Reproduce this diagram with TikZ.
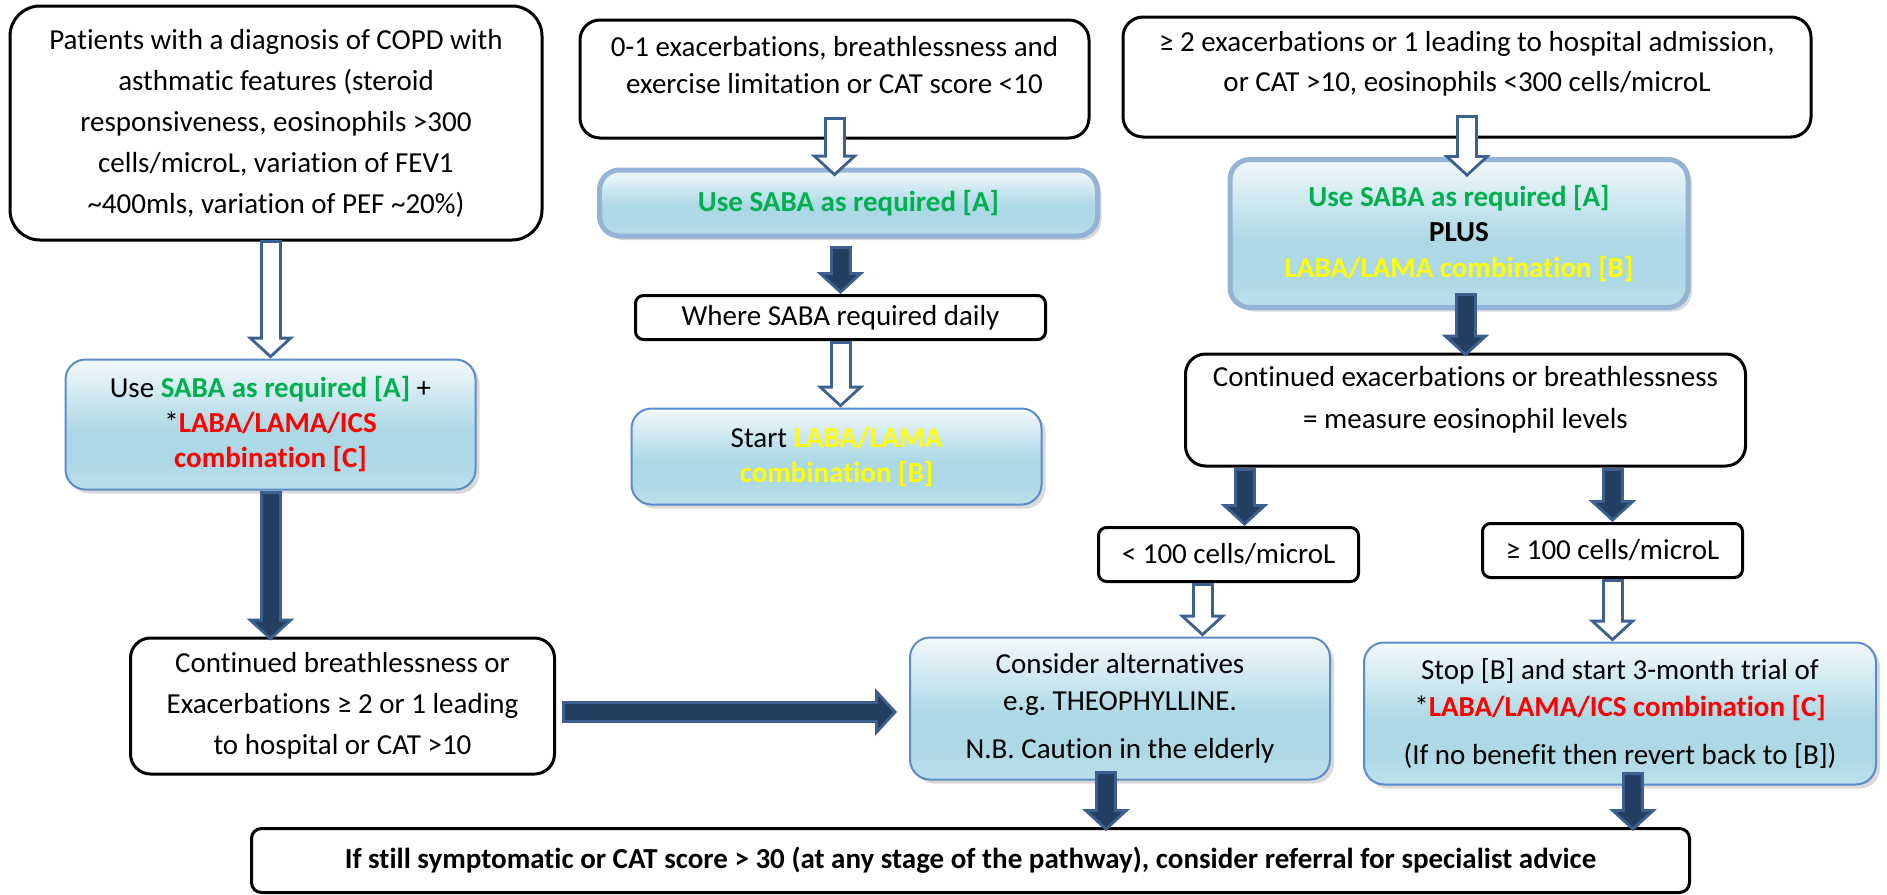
\documentclass[tikz,border=0pt]{standalone}
\usepackage{fontspec}
\setmainfont{Carlito}[Ligatures=NoCommon]
\usetikzlibrary{arrows.meta,shadows}

\definecolor{sabagreen}{HTML}{00B050}
\definecolor{labayellow}{HTML}{FFFF00}
\definecolor{icsred}{HTML}{FF0000}
\definecolor{arrowedge}{HTML}{3C6190}
\definecolor{arrowfill}{HTML}{253F62}
\definecolor{boxtop}{HTML}{F2F9FB}
\definecolor{boxlow}{HTML}{ADD8E6}
\definecolor{boxbot}{HTML}{BCE0EA}
\definecolor{thickedge}{HTML}{95B3D7}
\definecolor{thinedge}{HTML}{5B8CC8}

\pgfdeclareverticalshading{paleblue}{100bp}{color(0bp)=(boxbot); color(25bp)=(boxbot); color(35bp)=(boxlow); color(48bp)=(boxlow); color(75bp)=(boxtop); color(100bp)=(boxtop)}

\newcommand{\saba}[1]{\textbf{\color{sabagreen}#1}}
\newcommand{\labalama}[1]{\textbf{\color{labayellow}#1}}
\newcommand{\triple}[1]{\textbf{\color{icsred}#1}}

\tikzset{
  linesep/.style={font=\fontsize{14.5pt}{#1}\selectfont\frenchspacing},
  outline/.style={draw=black, line width=1.5pt, fill=white, rounded corners=#1, align=center},
  paleblock/.style={shading=paleblue, rounded corners=10pt, align=center, drop shadow={opacity=0.3, shadow xshift=2pt, shadow yshift=-2pt}},
  thinblock/.style={paleblock, draw=thinedge, line width=1pt},
  thickblock/.style={paleblock, draw=thickedge, line width=2.5pt},
  arrowbase/.style={preaction={draw=arrowedge, line width=11pt, shorten <=0pt, shorten >=0pt, -{Triangle[width=24pt,length=11pt,line width'=0pt]}}},
  hollowarrow/.style={arrowbase, draw=white, line width=8pt, shorten <=1.5pt, shorten >=2pt, -{Triangle[width=16.3pt,length=7.5pt,line width'=0pt]}},
  darkarrow/.style={arrowbase, draw=arrowfill, line width=8pt, shorten <=1.5pt, shorten >=2pt, -{Triangle[width=16.3pt,length=7.5pt,line width'=0pt]}}
}

\begin{document}
\begin{tikzpicture}[x=0.5pt,y=-0.5pt]
\useasboundingbox (0,0) rectangle (1887,895);

\node[outline=15pt, linesep=20.5pt, minimum width=266pt, minimum height=117pt] (patients) at (276,123) {Patients with a diagnosis of COPD with\\ asthmatic features (steroid\\ responsiveness, eosinophils >300\\ cells/microL, variation of FEV1\\ \textasciitilde400mls, variation of PEF \textasciitilde20\%)};
\node[outline=10pt, linesep=18.5pt, minimum width=254.5pt, minimum height=59pt] (mild) at (834.5,79) {0-1 exacerbations, breathlessness and\\ exercise limitation or CAT score <10\\[-4pt]\mbox{}};
\node[outline=10pt, linesep=20pt, minimum width=344pt, minimum height=60pt] (severe) at (1467,77) {≥ 2 exacerbations or 1 leading to hospital admission,\\ or CAT >10, eosinophils <300 cells/microL\\[-4pt]\mbox{}};
\node[thinblock, linesep=17.5pt, minimum width=205pt, minimum height=65pt] (tripleA) at (270.5,424.5) {Use \saba{SABA as required [A]} +\\ *\triple{LABA/LAMA/ICS}\\ \triple{combination [C]}};
\node[thickblock, linesep=17.5pt, minimum width=249pt, minimum height=33pt] (sabaonly) at (848.5,203) {\saba{Use SABA as required [A]}};
\node[outline=4pt, linesep=17.5pt, minimum width=205pt, minimum height=22pt] (daily) at (840.5,317.5) {Where SABA required daily};
\node[thinblock, linesep=17.5pt, minimum width=205pt, minimum height=48pt] (dual) at (836.5,456.5) {Start \labalama{LABA/LAMA}\\ \labalama{combination [B]}};
\node[thickblock, linesep=17.75pt, minimum width=229pt, minimum height=74pt] (sabaplus) at (1459,233.5) {\saba{Use SABA as required [A]}\\ \textbf{PLUS}\\ \labalama{LABA/LAMA combination [B]}};
\node[outline=10pt, linesep=21pt, minimum width=280pt, minimum height=56pt] (eosin) at (1465.5,410) {Continued exacerbations or breathlessness\\ = measure eosinophil levels\\[-8pt]\mbox{}};
\node[outline=4pt, linesep=17.5pt, minimum width=130pt, minimum height=27pt] (lowcount) at (1228.5,554.5) {< 100 cells/microL};
\node[outline=4pt, linesep=17.5pt, minimum width=130pt, minimum height=27pt] (highcount) at (1612.5,550.5) {≥ 100 cells/microL};
\node[thinblock, linesep=18.5pt, minimum width=210pt, minimum height=71pt] (theo) at (1120,708.5) {Consider alternatives\\ e.g. THEOPHYLLINE.\\[5.5pt] N.B. Caution in the elderly};
\node[thinblock, linesep=18.5pt, minimum width=256pt, minimum height=71pt] (trial) at (1620,713.5) {Stop [B] and start 3-month trial of\\ *\triple{LABA/LAMA/ICS combination [C]}\\[5.5pt] (If no benefit then revert back to [B])};
\node[outline=10pt, linesep=20.5pt, minimum width=212pt, minimum height=68pt] (persist) at (342.5,706) {Continued breathlessness or\\ Exacerbations ≥ 2 or 1 leading\\ to hospital or CAT >10};
\node[outline=5pt, linesep=17.5pt, minimum width=719pt, minimum height=32pt] (referral) at (970.5,860.5) {\textbf{If still symptomatic or CAT score > 30 (at any stage of the pathway), consider referral for specialist advice}};

\draw[hollowarrow] ([yshift=1pt]patients.south -| tripleA.north) -- (tripleA.north);
\draw[hollowarrow] ([yshift=11.5pt]mild.south) -- ([yshift=-4.5pt]mild.south |- sabaonly.north);
\draw[darkarrow] ([yshift=-3.5pt]sabaonly.south -| daily.north) -- (daily.north);
\draw[hollowarrow] (daily.south) -- (daily.south |- dual.north);
\draw[hollowarrow] ([yshift=12pt]severe.south) -- ([yshift=-10pt]severe.south |- sabaplus.north);
\draw[darkarrow] ([yshift=8.5pt]sabaplus.south -| eosin.north) -- ([yshift=-2pt]eosin.north);
\draw[darkarrow] ([xshift=8pt]eosin.south -| lowcount.north) -- ([xshift=8pt]lowcount.north);
\draw[darkarrow] (eosin.south -| highcount.north) -- (highcount.north);
\draw[hollowarrow] ([xshift=-13pt]lowcount.south) -- ([xshift=-13pt]lowcount.south |- theo.north);
\draw[hollowarrow] (highcount.south) -- (highcount.south |- trial.north);
\draw[darkarrow] (tripleA.south) -- ([yshift=-2pt]tripleA.south |- persist.north);
\draw[darkarrow] ([xshift=3pt,yshift=-3pt]persist.east) -- ([xshift=-6pt,yshift=-3pt]persist.east -| theo.west);
\draw[darkarrow] ([xshift=-7pt,yshift=5pt]theo.south) -- ([xshift=-7pt,yshift=-2pt]theo.south |- referral.north);
\draw[darkarrow] ([xshift=6.5pt,yshift=7pt]trial.south) -- ([xshift=6.5pt,yshift=-2pt]trial.south |- referral.north);
\end{tikzpicture}
\end{document}
